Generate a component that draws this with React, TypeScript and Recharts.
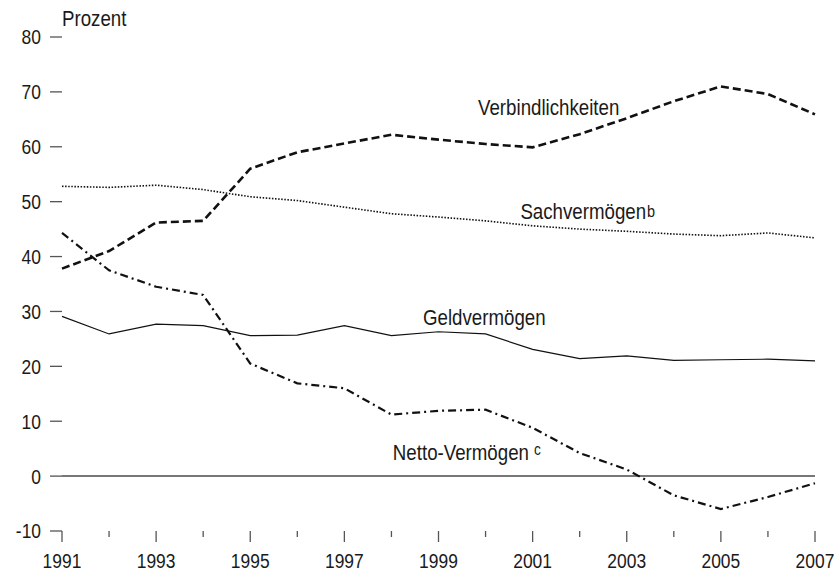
import React from 'react';
import { LineChart, Line, XAxis, YAxis, ReferenceLine, ReferenceDot } from 'recharts';

const years = [1991, 1992, 1993, 1994, 1995, 1996, 1997, 1998, 1999, 2000, 2001, 2002, 2003, 2004, 2005, 2006, 2007];
const geldvermoegen = [29.1, 25.9, 27.7, 27.4, 25.6, 25.7, 27.4, 25.6, 26.3, 25.9, 23.1, 21.4, 21.9, 21.1, 21.2, 21.3, 21.0];
const verbindlichkeiten = [37.8, 41.0, 46.2, 46.5, 56.0, 59.0, 60.6, 62.2, 61.3, 60.5, 59.9, 62.3, 65.2, 68.3, 71.0, 69.6, 65.9];
const sachvermoegen = [52.8, 52.6, 53.0, 52.2, 50.9, 50.2, 49.0, 47.8, 47.2, 46.5, 45.6, 45.0, 44.6, 44.1, 43.8, 44.3, 43.4];
const nettovermoegen = [44.3, 37.5, 34.5, 33.0, 20.5, 16.9, 16.0, 11.2, 11.9, 12.1, 8.8, 4.2, 1.2, -3.5, -6.0, -3.8, -1.3];

const yTicks = [-10, 0, 10, 20, 30, 40, 50, 60, 70, 80];
const xTicks = years;
const labeledYears = [1991, 1993, 1995, 1997, 1999, 2001, 2003, 2005, 2007];

const data = years.map((year, i) => ({
  year,
  geld: geldvermoegen[i],
  verb: verbindlichkeiten[i],
  sach: sachvermoegen[i],
  netto: nettovermoegen[i],
}));

const FONT = '"Liberation Sans", Arial, sans-serif';
const TEXT = '#1a1a1a';
const AXIS = '#555';
const SX = 0.85;

const XTick = (props: any) => {
  const { x, y, payload } = props;
  const major = labeledYears.includes(payload.value);
  return (
    <g>
      <line x1={x} y1={y} x2={x} y2={y + (major ? 11 : 6)} stroke={AXIS} strokeWidth={1.3} />
      {major && (
        <text
          transform={`translate(${x},${y + 37}) scale(${SX},1)`}
          textAnchor="middle"
          fontFamily={FONT}
          fontSize={20.5}
          fill={TEXT}
        >
          {payload.value}
        </text>
      )}
    </g>
  );
};

const YTick = (props: any) => {
  const { x, y, payload } = props;
  return (
    <text
      transform={`translate(${x},${y}) scale(${SX},1)`}
      textAnchor="end"
      dy="0.36em"
      fontFamily={FONT}
      fontSize={20.5}
      fill={TEXT}
    >
      {payload.value}
    </text>
  );
};

const makeLabel = (main: string, sup?: string, supDx?: number, supDy?: number, supSize?: number) => (props: any) => {
  const vb = props.viewBox || {};
  const x = vb.x + (vb.width || 0) / 2;
  const y = vb.y + (vb.height || 0) / 2;
  return (
    <text transform={`translate(${x},${y}) scale(${SX},1)`} textAnchor="start" fontFamily={FONT} fontSize={22} fill={TEXT}>
      {main}
      {sup && (
        <tspan fontSize={supSize} dy={supDy} dx={supDx}>
          {sup}
        </tspan>
      )}
    </text>
  );
};

export default function App() {
  return (
    <div style={{ position: 'absolute', left: 0, top: 0 }}>
      <LineChart width={837} height={572} data={data} margin={{ top: 37, right: 22, bottom: 0, left: 0 }}>
        <XAxis
          dataKey="year"
          type="number"
          domain={[1991, 2007]}
          ticks={xTicks}
          interval={0}
          axisLine={false}
          tickLine={false}
          tickSize={0}
          tickMargin={0}
          height={41}
          tick={<XTick />}
        />
        <YAxis
          type="number"
          domain={[-10, 80]}
          ticks={yTicks}
          interval={0}
          axisLine={false}
          tickLine={{ stroke: AXIS, strokeWidth: 1.3 }}
          tickSize={12}
          tickMargin={9}
          width={62}
          tick={<YTick />}
        />
        <ReferenceLine y={0} stroke="#777" strokeWidth={2} />
        <Line dataKey="sach" stroke="#111" strokeWidth={1.6} strokeDasharray="1.5 1.6" dot={false} isAnimationActive={false} />
        <Line dataKey="geld" stroke="#111" strokeWidth={1.2} dot={false} isAnimationActive={false} />
        <Line dataKey="verb" stroke="#111" strokeWidth={2.6} strokeDasharray="8 4" dot={false} isAnimationActive={false} />
        <Line dataKey="netto" stroke="#111" strokeWidth={2.2} strokeDasharray="8 4 2 4" dot={false} isAnimationActive={false} />
        <ReferenceDot x={1991} y={82} r={0} ifOverflow="visible" label={makeLabel('Prozent')} />
        <ReferenceDot x={1999.84} y={65.8} r={0} ifOverflow="visible" label={makeLabel('Verbindlichkeiten')} />
        <ReferenceDot x={2000.74} y={46.9} r={0} ifOverflow="visible" label={makeLabel('Sachvermögen', 'b', 1, -2, 17)} />
        <ReferenceDot x={1998.67} y={27.5} r={0} ifOverflow="visible" label={makeLabel('Geldvermögen')} />
        <ReferenceDot x={1998.03} y={2.9} r={0} ifOverflow="visible" label={makeLabel('Netto-Vermögen', 'c', 6, -5, 16)} />
      </LineChart>
    </div>
  );
}
